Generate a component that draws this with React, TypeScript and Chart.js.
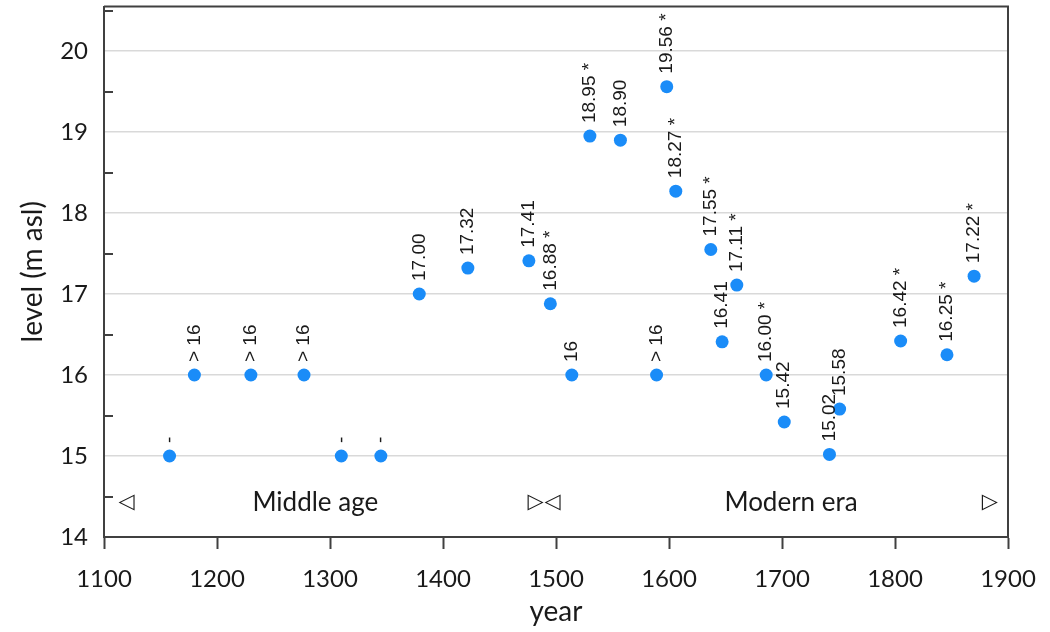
import React, { useEffect, useRef } from 'react';
import { Chart, registerables } from 'chart.js';

Chart.register(...registerables);

// Data
const years = [1158, 1180, 1230, 1277, 1310, 1345, 1379, 1422, 1476, 1495, 1514, 1530, 1557, 1589, 1598, 1606, 1637, 1647, 1660, 1686, 1702, 1742, 1751, 1805, 1846, 1870];
const levels = [15, 16, 16, 16, 15, 15, 17.0, 17.32, 17.41, 16.88, 16, 18.95, 18.9, 16, 19.56, 18.27, 17.55, 16.41, 17.11, 16.0, 15.42, 15.02, 15.58, 16.42, 16.25, 17.22];
const pointLabels = ['-', '> 16', '> 16', '> 16', '-', '-', '17.00', '17.32', '17.41', '16.88 *', '16', '18.95 *', '18.90', '> 16', '19.56 *', '18.27 *', '17.55 *', '16.41', '17.11 *', '16.00 *', '15.42', '15.02', '15.58', '16.42 *', '16.25 *', '17.22 *'];

// Era annotations
const eraNames = ['Middle age', 'Modern era'];
const eraCenters = [1287, 1708];
const eraMarkers = ['◁', '▷', '◁', '▷'];
const eraMarkerYears = [1120, 1482, 1497, 1884];
const eraLevel = 14.43;

const xMin = 1100;
const xMax = 1900;
const yMin = 14;
const yMax = 20.55;

const AXIS_COLOR = '#404040';
const GRID_COLOR = '#d9d9d9';
const POINT_COLOR = '#1a8cf8';
const TEXT_COLOR = '#1a1a1a';
const FONT = 'Lato, "Open Sans", sans-serif';

const decorPlugin = {
  id: 'decor',
  beforeDatasetsDraw(chart: any) {
    const { ctx, chartArea, scales } = chart;
    const y = scales.y;
    ctx.save();
    ctx.strokeStyle = AXIS_COLOR;
    ctx.lineWidth = 2;
    // inward half ticks on the left axis
    for (let v = yMin + 0.5; v <= yMax; v += 1) {
      const py = Math.round(y.getPixelForValue(v));
      ctx.beginPath();
      ctx.moveTo(chartArea.left, py);
      ctx.lineTo(chartArea.left + 9, py);
      ctx.stroke();
    }
    // top and right frame
    ctx.beginPath();
    ctx.moveTo(chartArea.left, chartArea.top);
    ctx.lineTo(chartArea.right, chartArea.top);
    ctx.lineTo(chartArea.right, chartArea.bottom);
    ctx.stroke();
    ctx.restore();
  },
  afterDatasetsDraw(chart: any) {
    const { ctx, scales } = chart;
    const meta = chart.getDatasetMeta(0);
    ctx.save();
    ctx.fillStyle = TEXT_COLOR;
    ctx.font = '19px "Liberation Sans", Arial, sans-serif';
    ctx.textAlign = 'left';
    ctx.textBaseline = 'middle';
    meta.data.forEach((pt: any, i: number) => {
      ctx.save();
      ctx.translate(pt.x, pt.y - 13);
      ctx.rotate(-Math.PI / 2);
      ctx.fillText(pointLabels[i], 0, 0);
      ctx.restore();
    });
    // era labels
    const py = scales.y.getPixelForValue(eraLevel);
    ctx.font = '26px ' + FONT;
    ctx.textAlign = 'center';
    eraNames.forEach((name, i) => {
      ctx.fillText(name, scales.x.getPixelForValue(eraCenters[i]), py);
    });
    ctx.font = 'bold 21px "DejaVu Sans", sans-serif';
    eraMarkers.forEach((m, i) => {
      ctx.fillText(m, scales.x.getPixelForValue(eraMarkerYears[i]), py);
    });
    ctx.restore();
  },
};

export default function App() {
  const canvasRef = useRef<HTMLCanvasElement | null>(null);

  useEffect(() => {
    if (!canvasRef.current) return;
    const chart = new Chart(canvasRef.current, {
      type: 'scatter',
      data: {
        datasets: [
          {
            data: years.map((x, i) => ({ x, y: levels[i] })),
            backgroundColor: POINT_COLOR,
            borderColor: POINT_COLOR,
            pointRadius: 6.5,
            pointHoverRadius: 6.5,
            borderWidth: 0,
          },
        ],
      },
      plugins: [decorPlugin],
      options: {
        animation: false,
        responsive: false,
        maintainAspectRatio: false,
        layout: { padding: { top: 5, right: 42, left: 0, bottom: 0 } },
        plugins: {
          legend: { display: false },
          tooltip: { enabled: false },
        },
        scales: {
          x: {
            type: 'linear',
            min: xMin,
            max: xMax,
            afterFit: (s: any) => {
              s.height = 95;
              s.paddingLeft = 0;
              s.paddingRight = 0;
            },
            ticks: {
              stepSize: 100,
              color: TEXT_COLOR,
              font: { family: FONT, size: 24 },
              padding: 16,
              maxRotation: 0,
              callback: (v: any) => String(v),
            },
            grid: {
              drawOnChartArea: false,
              drawTicks: true,
              tickLength: 12,
              tickColor: AXIS_COLOR,
              tickWidth: 2,
            },
            border: { display: true, color: AXIS_COLOR, width: 2 },
            title: {
              display: true,
              text: 'year',
              color: TEXT_COLOR,
              font: { family: FONT, size: 28 },
              padding: { top: 0, bottom: 3 },
            },
          },
          y: {
            type: 'linear',
            min: yMin,
            max: yMax,
            afterFit: (s: any) => {
              s.width = 104;
              s.paddingTop = 0;
              s.paddingBottom = 0;
            },
            ticks: {
              stepSize: 0.5,
              includeBounds: false,
              color: TEXT_COLOR,
              font: { family: FONT, size: 24 },
              padding: 16,
              callback: (v: any) => (Number.isInteger(v) ? String(v) : ''),
            },
            grid: {
              drawTicks: false,
              color: (c: any) =>
                c.tick && Number.isInteger(c.tick.value) && c.tick.value !== yMin ? GRID_COLOR : 'rgba(0,0,0,0)',
              lineWidth: 1.5,
            },
            border: { display: true, color: AXIS_COLOR, width: 2 },
            title: {
              display: true,
              text: 'level (m asl)',
              color: TEXT_COLOR,
              font: { family: FONT, size: 28 },
              padding: { top: 16, bottom: 0 },
            },
          },
        },
      },
    });
    return () => chart.destroy();
  }, []);

  return (
    <div style={{ position: 'absolute', left: 0, top: 0, width: 1050, height: 632, background: '#fff' }}>
      <canvas ref={canvasRef} width={1050} height={632} style={{ display: 'block' }} />
    </div>
  );
}
